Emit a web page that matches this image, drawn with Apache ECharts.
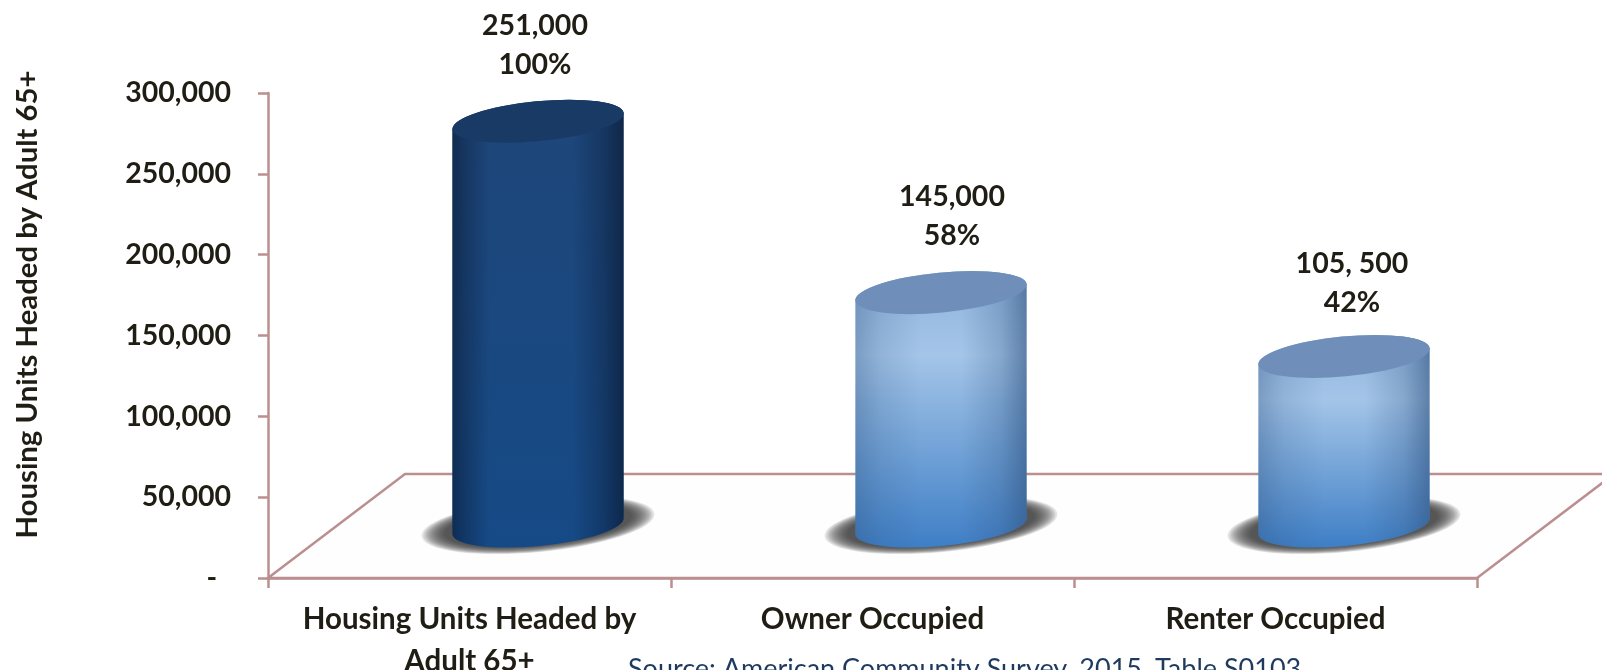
<!DOCTYPE html>
<html>
<head>
<meta charset="utf-8">
<style>
  html, body { margin: 0; padding: 0; background: #fff; }
  #main { width: 1602px; height: 670px; }
</style>
<script src="https://cdn.jsdelivr.net/npm/echarts@6/dist/echarts.min.js"></script>
</head>
<body>
<div id="main"></div>
<script>
const categories = ["Housing Units Headed by\nAdult 65+", "Owner Occupied", "Renter Occupied"];
const units = [251000, 145000, 105500];
const unitLabels = ["251,000", "145,000", "105, 500"];
const shareLabels = ["100%", "58%", "42%"];
const yTicks = ["-  ", "50,000", "100,000", "150,000", "200,000", "250,000", "300,000"];

const FONT = "Lato, 'Open Sans', sans-serif";
const TEXT = "#1f1d14";
const RULE = "#bb8f8f";

// depth of the fake 3d floor, bars stand in the middle of it
const DEPTH_X = 137;
const DEPTH_Y = 104;
// half axes of the tilted cylinder ends
const RX = 86;
const RY = 20;
const TILT = -5.5;

const chart = echarts.init(document.getElementById("main"), null, { renderer: "canvas" });

function ends(cx, cy) {
  const a = (TILT * Math.PI) / 180;
  const dx = RX * Math.cos(a);
  const dy = RX * Math.sin(a);
  return { lx: cx - dx, ly: cy - dy, rx: cx + dx, ry: cy + dy };
}

function ellipsePath(cx, cy, rx, ry) {
  const a = (TILT * Math.PI) / 180;
  const dx = rx * Math.cos(a);
  const dy = rx * Math.sin(a);
  return `M ${cx - dx} ${cy - dy} A ${rx} ${ry} ${TILT} 1 1 ${cx + dx} ${cy + dy} A ${rx} ${ry} ${TILT} 1 1 ${cx - dx} ${cy - dy} Z`;
}

function renderFloor(params, api) {
  const g = params.coordSys;
  const x0 = g.x, y0 = g.y + g.height, x1 = g.x + g.width;
  const corners = [[x0, y0], [x0 + DEPTH_X, y0 - DEPTH_Y], [x1 + DEPTH_X, y0 - DEPTH_Y], [x1, y0]];
  return {
    type: "polygon",
    shape: { points: corners },
    style: { fill: "#fffefe", stroke: RULE, lineWidth: 2.5 },
    silent: true,
  };
}

// soft floor shadow, stacked see-through ellipses
function shadowLayers(cx, cy) {
  const layers = [];
  for (let k = 0; k < 14; k++) {
    layers.push({
      type: "path",
      shape: { pathData: ellipsePath(cx, cy - 1, RX + 31 - k * 1.8, RY + 7 - k * 0.5) },
      style: { fill: "rgba(60,60,60,0.12)" },
      silent: true,
    });
  }
  return layers;
}

function renderCylinder(params, api) {
  const i = api.value(0);
  const base = api.coord([i, 0]);
  const top = api.coord([i, api.value(1)]);
  const cx = base[0] + DEPTH_X / 2;
  const by = base[1] - DEPTH_Y / 2;
  const ty = top[1] - DEPTH_Y / 2 + 1;
  const t = ends(cx, ty);
  const b = ends(cx, by);
  const body = `M ${t.lx} ${t.ly} L ${b.lx} ${b.ly} A ${RX} ${RY} ${TILT} 1 0 ${b.rx} ${b.ry} L ${t.rx} ${t.ry} A ${RX} ${RY} ${TILT} 1 0 ${t.lx} ${t.ly} Z`;
  const dark = i === 0;

  const vertical = dark
    ? [{ offset: 0, color: "#1e4679" }, { offset: 1, color: "#164a86" }]
    : [{ offset: 0, color: "#8fb3dc" }, { offset: 0.3, color: "#a4c5e8" }, { offset: 1, color: "#3f7fc6" }];
  const edges = dark
    ? [
        { offset: 0, color: "rgba(10,25,50,0.6)" },
        { offset: 0.08, color: "rgba(10,25,50,0.35)" },
        { offset: 0.22, color: "rgba(10,25,50,0)" },
        { offset: 0.7, color: "rgba(10,25,50,0)" },
        { offset: 0.88, color: "rgba(10,25,50,0.35)" },
        { offset: 1, color: "rgba(10,25,50,0.7)" },
      ]
    : [
        { offset: 0, color: "rgba(45,80,125,0.35)" },
        { offset: 0.15, color: "rgba(45,80,125,0.15)" },
        { offset: 0.38, color: "rgba(45,80,125,0)" },
        { offset: 0.62, color: "rgba(45,80,125,0)" },
        { offset: 0.85, color: "rgba(45,80,125,0.25)" },
        { offset: 1, color: "rgba(45,80,125,0.6)" },
      ];

  return {
    type: "group",
    children: shadowLayers(cx, by).concat([
      {
        type: "path",
        shape: { pathData: body },
        style: { fill: new echarts.graphic.LinearGradient(0, 0, 0, 1, vertical) },
      },
      {
        type: "path",
        shape: { pathData: body },
        style: { fill: new echarts.graphic.LinearGradient(0, 0, 1, 0, edges) },
        silent: true,
      },
      {
        type: "path",
        shape: { pathData: ellipsePath(cx, ty, RX, RY) },
        style: { fill: dark ? "#1a3a66" : "#6f8fba" },
      },
      {
        type: "text",
        style: {
          text: unitLabels[i] + "\n" + shareLabels[i],
          x: cx + [-3, 11, 8][i],
          y: ty + [-76, -76, -73][i],
          align: "center",
          verticalAlign: "middle",
          fill: TEXT,
          font: "bold 28.5px " + FONT,
          lineHeight: 39,
        },
      },
    ]),
  };
}

chart.setOption({
  backgroundColor: "#fff",
  animation: false,
  title: {
    text: "Source: American Community Survey, 2015, Table S0103",
    left: 628,
    top: 656,
    padding: 0,
    textStyle: { color: "#1f3a5f", fontFamily: FONT, fontWeight: "normal", fontSize: 27 },
  },
  grid: { left: 268, right: 125, top: 93, bottom: 92, outerBoundsMode: "none" },
  xAxis: {
    type: "category",
    data: categories,
    boundaryGap: true,
    axisLine: { lineStyle: { color: RULE, width: 2.5 } },
    axisTick: { show: true, alignWithLabel: false, length: 10, lineStyle: { color: RULE, width: 2.5 } },
    axisLabel: { color: TEXT, fontFamily: FONT, fontWeight: "bold", fontSize: 29.5, lineHeight: 42, margin: 20, interval: 0, hideOverlap: false },
  },
  yAxis: {
    type: "value",
    min: 0,
    max: 300000,
    interval: 50000,
    name: "Housing Units Headed by Adult 65+",
    nameLocation: "middle",
    nameGap: 226,
    nameTextStyle: { color: TEXT, fontFamily: FONT, fontWeight: "bold", fontSize: 29.3, padding: [0, 0, 0, 62] },
    splitLine: { show: false },
    axisLine: { show: true, lineStyle: { color: RULE, width: 2.5 } },
    axisTick: { show: true, length: 10, lineStyle: { color: RULE, width: 2.5 } },
    axisLabel: {
      color: TEXT,
      fontFamily: FONT,
      fontWeight: "bold",
      fontSize: 28.5,
      margin: 37,
      padding: [2, 0, 0, 0],
      formatter: (v) => yTicks[v / 50000],
    },
  },
  series: [
    {
      type: "custom",
      name: "floor",
      z: 1,
      clip: false,
      silent: true,
      data: [[0, 0]],
      renderItem: renderFloor,
    },
    {
      type: "custom",
      name: "Housing units",
      z: 3,
      clip: false,
      encode: { x: 0, y: 1 },
      data: units.map((v, i) => [i, v]),
      renderItem: renderCylinder,
    },
  ],
});
</script>
</body>
</html>
